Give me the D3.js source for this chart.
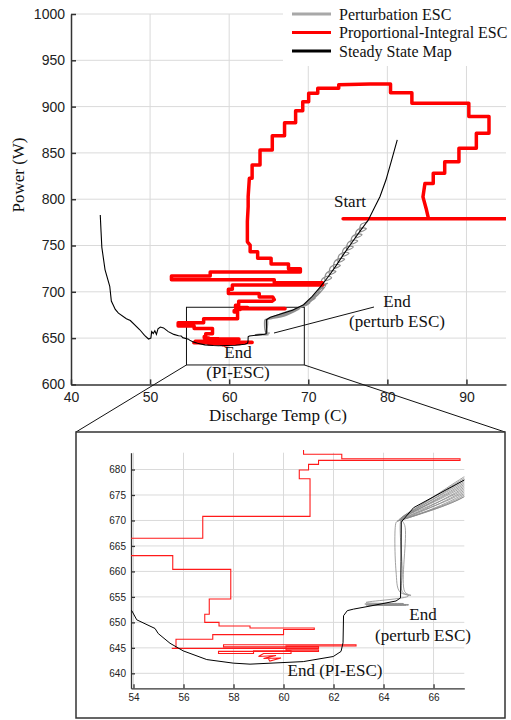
<!DOCTYPE html>
<html>
<head>
<meta charset="utf-8">
<script src="https://d3js.org/d3.v7.min.js"></script>
<style>
  body { margin: 0; background: #fff; }
  .serif { font-family: "Liberation Serif", "Times New Roman", serif; fill: #111; }
</style>
</head>
<body>
<div id="chart"></div>
<script>
// Tick values
const mainXTicks = [40, 50, 60, 70, 80, 90];
const mainYTicks = [600, 650, 700, 750, 800, 850, 900, 950, 1000];
const insetXTicks = [54, 56, 58, 60, 62, 64, 66];
const insetYTicks = [640, 645, 650, 655, 660, 665, 670, 675, 680];

// Legend entries
const legendNames = ['Perturbation ESC', 'Proportional-Integral ESC', 'Steady State Map'];
const legendColors = ['#a8a8a8', '#ff0000', '#000000'];

// Zoom window [temp, power]
const zoomBox = [[54.6, 621], [69.5, 683.3]];

// Steady state map: [discharge temp, power]
const steadyState = [
  [43.7,783],[43.8,765],[43.9,748],[44.3,724],[44.9,706],[45.1,690],[45.6,681],[46.0,677],
  [47.0,671],[47.5,669],[48.7,659],[49.3,653],[49.8,649],[50.1,650],[50.2,657],[50.4,655],
  [50.6,658],[50.8,654],[51.0,660],[51.3,662],[51.7,661],[52.3,657],[53.0,654],[53.6,652.6],
  [53.93,652.3],[54.13,650.5],[54.86,648.8],[54.99,647.8],[55.46,645.9],[55.99,644.4],
  [56.93,642.7],[57.99,642.0],[58.66,641.8],[60.79,642.3],[61.99,643.3],[62.3,644.3],
  [62.38,646],[62.4,651.3],[62.55,652.3],[62.8,652.6],[63.46,653.2],[64.5,654.2],[64.68,654.8],
  [64.7,662],[64.71,669.7],[65.2,672.5],[66.5,676],[68,680],[69.4,686],[70.5,695],
  [71.5,705],[72.5,716],[73.5,728],[74.5,741],[75.5,753],[76.5,765],[77.59,777.5],
  [78.22,788.3],[79.06,802.7],[79.82,820.7],[80.54,842.3],[81.25,864]
];

// Perturbation ESC trajectory (loops round the map, then the dense band, then the end)
const perturbEsc = [
  [77.55,777.5],
  [77.45,775.7],[76.65,772.5],[76.55,764.9],[77.35,768.1],
  [76.9,769.1],[76.1,765.9],[76.0,758.3],[76.8,761.5],
  [76.35,762.5],[75.55,759.3],[75.45,751.7],[76.25,754.9],
  [75.8,755.9],[75.0,752.7],[74.9,745.1],[75.7,748.3],
  [75.25,749.3],[74.45,746.1],[74.35,738.5],[75.15,741.7],
  [74.7,742.7],[73.9,739.5],[73.8,731.9],[74.6,735.1],
  [74.15,736.1],[73.35,732.9],[73.25,725.3],[74.05,728.5],
  [73.6,729.5],[72.8,726.3],[72.7,718.7],[73.5,721.9],
  [73.05,722.9],[72.25,719.7],[72.15,712.1],[72.95,715.3],
  [72.55,716.9],[71.75,713.7],[71.65,706.1],[72.45,709.3],
  [71.9,707.5],[69.9,686.6],[67.2,678.5],[64.85,671.0],
  [64.8,670.9],[67.2,678.2],[69.8,686.3],[72.2,707.0],
  [71.8,705.5],[69.7,686.0],[67.2,677.9],[64.8,670.8],
  [64.75,670.7],[67.2,677.6],[69.6,685.6],[72.0,704.5],
  [71.5,702.5],[69.5,685.3],[67.2,677.3],[64.75,670.6],
  [64.7,670.5],[67.2,677.0],[69.4,685.0],[71.7,701.0],
  [71.1,698.5],[69.3,684.6],[67.2,676.7],[64.7,670.4],
  [64.7,670.3],[67.2,676.4],[69.25,684.3],[71.3,697.0],
  [70.8,694.5],[69.2,684.0],[67.2,676.1],[64.65,670.3],
  [64.65,670.2],[67.2,675.8],[69.15,683.6],[70.9,693.0],
  [70.4,690.5],[69.1,683.3],[67.2,675.5],[64.6,670.1],
  [64.6,670.0],[67.2,675.2],[69.0,682.9],[70.2,688.0],
  [69.8,685.5],[68.9,682.6],[67.2,674.9],[64.6,670.0],
  [64.55,669.9],[67.2,674.6],[68.9,681.5],
  [68.6,680.5],[67.2,674.6],[64.55,669.8],
  [64.5,669.6],[64.5,660.0],[64.65,656.0],[65.1,655.3],[64.85,656.0],[64.85,669.0],
  [64.7,670.0],[64.75,660.0],[64.75,656.0],[65.0,655.2],
  [63.3,653.9],[64.8,653.7],[63.25,653.6],[65.0,653.5],[63.3,653.4],[64.9,653.4],
  [63.4,653.3],[65.0,653.35]
];

// Proportional-Integral ESC trajectory
const piEsc = [
  [74.4,779],[95.5,779],[85.2,779],
  [84.9,790],[84.5,802.5],[84.75,817],
  [85.8,817],[85.8,828],[87.25,828],[87.25,840.5],[89.05,840.5],[89.05,855],
  [91.25,855],[91.25,871.2],[92.85,871.2],[92.85,889.2],[90.3,889.2],[90.3,903.6],
  [83.1,903.6],[83.1,915],[80.4,915],[80.4,924.4],[77.8,924.4],[73.85,923.6],
  [73.85,919.8],[71.2,919.8],[71.2,914.4],[70.05,914.4],[70.05,905.3],[69.3,905.3],
  [69.3,895.6],[68.4,895.6],[68.4,882.6],[67.0,882.6],[67.0,868.6],[65.45,868.6],
  [65.45,853.1],[63.9,853.1],[63.9,836.9],[62.9,836.9],[62.9,822.6],[62.55,822.6],
  [62.4,803],[62.4,792],[62.3,776],[62.3,754],[62.65,750.4],[62.65,743.3],
  [63.6,743.3],[63.6,736.2],[65.3,736.2],[65.3,730],[67.5,730],[67.5,724.9],
  [69.0,724.9],[69.0,721.5],[57.6,721.5],[57.6,717.1],[52.7,717.1],[52.7,712.9],
  [65.7,712.9],[65.7,709.8],[71.8,709.8],[71.8,707.3],[60.4,707.3],[60.4,702.7],
  [59.9,702.7],[59.9,698.2],[63.8,698.2],[63.8,694.4],[65.5,694.4],[65.7,691.5],
  [65.4,689.7],[61.2,689.7],[61.2,685.4],[60.8,685.4],[60.8,683],[62.33,683],
  [62.33,682.1],[67.06,682.1],[67.06,681.8],[61.4,681.8],[61.4,681.0],[61.0,681.0],
  [61.0,679.9],[60.63,679.9],[60.63,678.2],[61.06,678.2],[61.06,670.8],[56.77,670.8],
  [56.77,666.5],[53.55,666.5],[53.55,663.1],[55.57,663.1],[55.57,660.4],[57.89,660.4],
  [57.89,654.6],[57.03,654.6],[57.03,651.6],[56.85,651.6],[56.85,650.0],[57.42,650.0],
  [57.42,649.3],[58.66,649.3],[58.66,648.9],[61.23,648.9],[61.23,648.6],[60.0,648.6],
  [60.0,647.6],[57.17,647.6],[57.17,646.7],[55.7,646.7],[55.7,644.9],[55.53,644.9],
  [61.4,644.9],[61.4,645.2],[57.6,645.2],[57.6,645.6],[62.9,645.6],[62.9,645.35],
  [60.1,645.35],[60.1,644.6],[61.4,644.6],[61.4,644.3],[57.4,644.3],[57.4,643.9],
  [58.8,643.9],[58.8,644.4],[60.3,644.4],[60.3,643.9],[59.2,643.9],[59.0,643.3],
  [59.7,643.5],[59.2,642.9],[59.9,643.0],[59.45,642.4],[59.4,642.8]
];

const svg = d3.select('#chart').append('svg')
  .attr('width', 511)
  .attr('height', 720);

// Draws grid lines and the left / bottom axes
const drawFrame = (g, x, y, xTicks, yTicks, opts) => {
  const [y0, y1] = y.range();
  const [x0, x1] = x.range();
  g.append('g').selectAll('line').data(xTicks.filter(d => x(d) > x0 + 1)).join('line')
    .attr('x1', d => x(d)).attr('x2', d => x(d))
    .attr('y1', y0).attr('y2', y1)
    .attr('stroke', '#dadada').attr('stroke-width', 1);
  g.append('g').selectAll('line').data(yTicks.filter(d => y(d) < y0 - 1)).join('line')
    .attr('x1', x0).attr('x2', x1)
    .attr('y1', d => y(d)).attr('y2', d => y(d))
    .attr('stroke', '#dadada').attr('stroke-width', 1);

  const xAxis = g.append('g')
    .attr('transform', `translate(0, ${y0})`)
    .call(d3.axisBottom(x).tickValues(xTicks).tickFormat(d3.format('d'))
      .tickSize(-opts.tick).tickSizeOuter(0).tickPadding(opts.padX));
  const yAxis = g.append('g')
    .attr('transform', `translate(${x0}, 0)`)
    .call(d3.axisLeft(y).tickValues(yTicks).tickFormat(d3.format('d'))
      .tickSize(-opts.tick).tickSizeOuter(0).tickPadding(opts.padY));
  [xAxis, yAxis].forEach(a => {
    a.attr('font-family', '"Liberation Sans", Arial, sans-serif').attr('font-size', opts.font);
    a.selectAll('path, line').attr('stroke', '#333').attr('stroke-width', opts.axisWidth);
    a.selectAll('text').attr('fill', '#222');
  });
};

const lineGen = (x, y) => d3.line().x(d => x(d[0])).y(d => y(d[1]));

// ---------------- Main plot ----------------
const xMain = d3.scaleLinear().domain([40, 95]).range([71, 506]);
const yMain = d3.scaleLinear().domain([600, 1000]).range([384.4, 14]);
const main = svg.append('g');

drawFrame(main, xMain, yMain, mainXTicks, mainYTicks, { tick: 5, padX: 8, padY: 6, font: 14, axisWidth: 1.5 });

main.append('clipPath').attr('id', 'clip-main')
  .append('rect').attr('x', 71).attr('y', 10).attr('width', 435).attr('height', 374.4);

// Zoom rectangle
main.append('rect')
  .attr('x', xMain(zoomBox[0][0]))
  .attr('y', yMain(zoomBox[1][1]))
  .attr('width', xMain(zoomBox[1][0]) - xMain(zoomBox[0][0]))
  .attr('height', yMain(zoomBox[0][1]) - yMain(zoomBox[1][1]))
  .attr('fill', 'none').attr('stroke', '#111').attr('stroke-width', 1);

const mainCurves = main.append('g').attr('clip-path', 'url(#clip-main)');
mainCurves.append('path')
  .attr('d', lineGen(xMain, yMain).curve(d3.curveCatmullRom.alpha(0.5))(perturbEsc))
  .attr('fill', 'none').attr('stroke', '#8e8e8e').attr('stroke-width', 1.2);
mainCurves.append('path')
  .attr('d', lineGen(xMain, yMain)(piEsc))
  .attr('fill', 'none').attr('stroke', '#ff0000').attr('stroke-width', 3.5)
  .attr('stroke-linejoin', 'round').attr('stroke-linecap', 'round');
mainCurves.append('path')
  .attr('d', lineGen(xMain, yMain)(steadyState))
  .attr('fill', 'none').attr('stroke', '#000').attr('stroke-width', 1.1);

// Axis labels
main.append('text').attr('class', 'serif')
  .attr('x', 278).attr('y', 421)
  .attr('text-anchor', 'middle').attr('font-size', 17)
  .text('Discharge Temp (C)');
main.append('text').attr('class', 'serif')
  .attr('transform', 'translate(24, 175) rotate(-90)')
  .attr('text-anchor', 'middle').attr('font-size', 17)
  .text('Power (W)');

// Annotations
const annotate = (g, lines, cx, y0, gap) => {
  lines.forEach((t, i) => {
    g.append('text').attr('class', 'serif')
      .attr('x', cx).attr('y', y0 + i * gap)
      .attr('text-anchor', 'middle').attr('font-size', 17)
      .text(t);
  });
};
annotate(main, ['Start'], 350, 207, 0);
annotate(main, ['End', '(perturb ESC)'], 397, 307, 20);
annotate(main, ['End', '(PI-ESC)'], 238, 358, 20);
main.append('line')
  .attr('x1', 374).attr('y1', 307).attr('x2', 274).attr('y2', 333)
  .attr('stroke', '#111').attr('stroke-width', 1);

// Legend
const legend = main.append('g');
legend.append('rect').attr('x', 283).attr('y', 0).attr('width', 228).attr('height', 66).attr('fill', '#fff');
legendNames.forEach((name, i) => {
  const ly = 14 + i * 18.5;
  legend.append('line')
    .attr('x1', 292).attr('x2', 331).attr('y1', ly).attr('y2', ly)
    .attr('stroke', legendColors[i]).attr('stroke-width', 3);
  legend.append('text').attr('class', 'serif')
    .attr('x', 339).attr('y', ly).attr('dy', '0.35em')
    .attr('font-size', 16)
    .text(name);
});

// ---------------- Inset ----------------
const frame = { x0: 76, y0: 432, x1: 505, y1: 718 };
svg.append('line')
  .attr('x1', xMain(zoomBox[0][0])).attr('y1', yMain(zoomBox[0][1]))
  .attr('x2', frame.x0).attr('y2', frame.y0)
  .attr('stroke', '#111').attr('stroke-width', 1);
svg.append('line')
  .attr('x1', xMain(zoomBox[1][0])).attr('y1', yMain(zoomBox[0][1]))
  .attr('x2', frame.x1).attr('y2', frame.y0)
  .attr('stroke', '#111').attr('stroke-width', 1);
svg.append('rect')
  .attr('x', frame.x0).attr('y', frame.y0)
  .attr('width', frame.x1 - frame.x0).attr('height', frame.y1 - frame.y0)
  .attr('fill', '#fff').attr('stroke', '#333').attr('stroke-width', 1.5);

const xIn = d3.scaleLinear().domain([53.9, 67.23]).range([131, 464.3]);
const yIn = d3.scaleLinear().domain([637.06, 683.3]).range([688.3, 452.7]);
const inset = svg.append('g');

drawFrame(inset, xIn, yIn, insetXTicks, insetYTicks, { tick: 4, padX: 6, padY: 5, font: 10, axisWidth: 1.3 });

inset.append('clipPath').attr('id', 'clip-inset')
  .append('rect').attr('x', 131).attr('y', 450).attr('width', 333.3).attr('height', 238.3);

const insetCurves = inset.append('g').attr('clip-path', 'url(#clip-inset)');
insetCurves.append('path')
  .attr('d', lineGen(xIn, yIn).curve(d3.curveCatmullRom.alpha(0.5))(perturbEsc))
  .attr('fill', 'none').attr('stroke', '#8a8a8a').attr('stroke-width', 0.8);
insetCurves.append('path')
  .attr('d', lineGen(xIn, yIn)(piEsc))
  .attr('fill', 'none').attr('stroke', '#ff1a1a').attr('stroke-width', 1.1);
insetCurves.append('path')
  .attr('d', lineGen(xIn, yIn)(steadyState))
  .attr('fill', 'none').attr('stroke', '#000').attr('stroke-width', 1);

annotate(inset, ['End', '(perturb ESC)'], 423, 620, 21);
annotate(inset, ['End (PI-ESC)'], 335, 676, 0);
</script>
</body>
</html>
